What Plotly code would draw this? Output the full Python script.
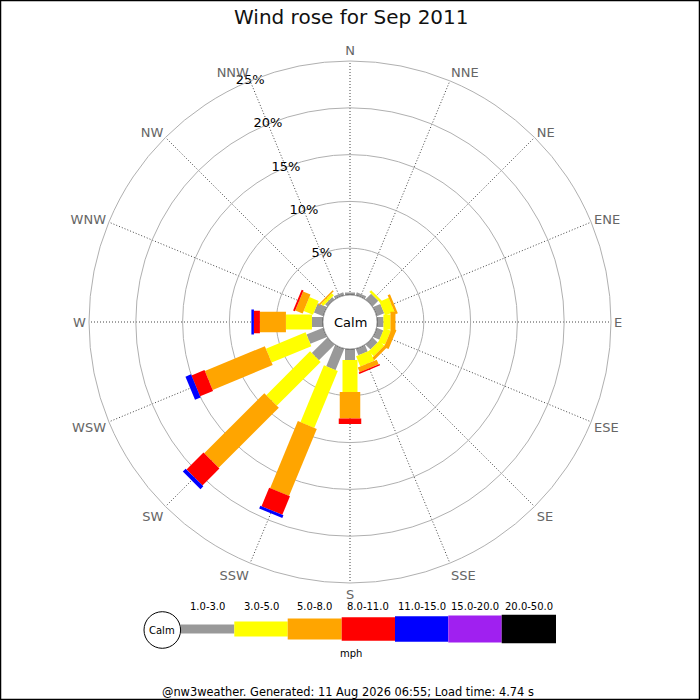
import math
import plotly.graph_objects as go

# ---------------- data ----------------
directions = ["N", "NNE", "NE", "ENE", "E", "ESE", "SE", "SSE",
              "S", "SSW", "SW", "WSW", "W", "WNW", "NW", "NNW"]
dir_angles = [i * 22.5 for i in range(16)]

speed_bands = ["1.0-3.0", "3.0-5.0", "5.0-8.0", "8.0-11.0", "11.0-15.0", "15.0-20.0", "20.0-50.0"]
band_colors = ["#999999", "#ffff00", "#ffa500", "#ff0000", "#0000ff", "#a020f0", "#000000"]

# percentage of time per direction for each speed band (mph)
pct_1_3   = [0.27, 0.32, 0.85, 0.85, 0.69, 0.75, 0.75, 0.75, 1.18, 2.46, 2.35, 1.92, 1.18, 1.07, 0.35, 0.32]
pct_3_5   = [0.0,  0.0,  0.27, 1.07, 0.75, 0.75, 0.75, 1.18, 3.42, 6.57, 6.62, 4.59, 2.78, 1.07, 0.32, 0.0]
pct_5_8   = [0.0,  0.0,  0.0,  0.27, 0.53, 0.53, 0.32, 0.53, 2.83, 7.75, 9.08, 6.94, 2.78, 0.85, 0.16, 0.0]
pct_8_11  = [0.0,  0.0,  0.0,  0.0,  0.0,  0.0,  0.0,  0.16, 0.59, 2.14, 2.56, 1.50, 0.64, 0.21, 0.0,  0.0]
pct_11_15 = [0.0,  0.0,  0.0,  0.0,  0.0,  0.0,  0.0,  0.0,  0.0,  0.32, 0.43, 0.64, 0.27, 0.0,  0.0,  0.0]
pct_15_20 = [0.0] * 16
pct_20_50 = [0.0] * 16
band_values = [pct_1_3, pct_3_5, pct_5_8, pct_8_11, pct_11_15, pct_15_20, pct_20_50]

radial_ticks = [5, 10, 15, 20, 25]

# ---------------- geometry (style) ----------------
W = H = 700
ML, MR, MT, MB = 89, 89, 61, 117
PW = W - ML - MR           # 522
PH = H - MT - MB           # 522
R_OUT = PW / 2.0           # 261 px
R_HOLE = 27.0              # px, calm circle
RMAX = 25.0
HOLE = R_HOLE / R_OUT
PX_PER_UNIT = (R_OUT - R_HOLE) / RMAX
OFF = R_HOLE / PX_PER_UNIT  # hole offset in data units
band_width_px = [10, 15, 20.5, 22.5, 25, 27, 28.5]


def px(x, y):
    """pixel -> paper coordinates"""
    return (x - ML) / PW, 1 - (y - MT) / PH


def rect_polar(theta_c, r0, r1, half_px):
    """corners of a rectangle (constant pixel width) along direction theta_c"""
    h = half_px / PX_PER_UNIT
    pts = []
    for D, s in ((r0 + OFF, -1), (r1 + OFF, -1), (r1 + OFF, 1), (r0 + OFF, 1)):
        R = math.hypot(D, h) - OFF
        th = theta_c + s * math.degrees(math.atan2(h, D))
        pts.append((R, th))
    pts.append(pts[0])
    return [p[0] for p in pts], [p[1] for p in pts]


fig = go.Figure()

# bars
for i, ang in enumerate(dir_angles):
    cum = 0.0
    for j, vals in enumerate(band_values):
        v = vals[i]
        if v <= 0:
            continue
        rr, tt = rect_polar(ang, cum, cum + v, band_width_px[j] / 2.0)
        fig.add_trace(go.Scatterpolar(
            r=rr, theta=tt, mode="lines", fill="toself",
            fillcolor=band_colors[j], line=dict(width=0, color=band_colors[j]),
            hoverinfo="skip", showlegend=False))
        cum += v

# calm circle (r = 0 sits on the hole edge)
circ_theta = [k * 2 for k in range(181)]
fig.add_trace(go.Scatterpolar(
    r=[0] * len(circ_theta), theta=circ_theta, mode="lines",
    line=dict(color="black", width=1), hoverinfo="skip", showlegend=False))

# radial tick labels along NNW
fig.add_trace(go.Scatterpolar(
    r=radial_ticks, theta=[337.5] * len(radial_ticks), mode="text",
    text=[f"{t}%" for t in radial_ticks],
    textfont=dict(family="DejaVu Sans", size=13, color="black"),
    cliponaxis=False, hoverinfo="skip", showlegend=False))

fig.update_layout(
    width=W, height=H,
    margin=dict(l=ML, r=MR, t=MT, b=MB),
    paper_bgcolor="white", plot_bgcolor="white",
    font=dict(family="DejaVu Sans"),
    showlegend=False,
    polar=dict(
        domain=dict(x=[0, 1], y=[0, 1]),
        hole=HOLE,
        bgcolor="white",
        radialaxis=dict(range=[0, RMAX], tickvals=radial_ticks, showticklabels=False,
                        ticks="", showline=False, gridcolor="#b0b0b0", gridwidth=1,
                        angle=112.5),
        angularaxis=dict(rotation=90, direction="clockwise",
                         tickmode="array", tickvals=dir_angles, ticktext=directions,
                         ticks="", showline=True, linecolor="#b0b0b0", linewidth=1,
                         gridcolor="#444444", gridwidth=1, griddash="1px,2px",
                         tickfont=dict(family="DejaVu Sans", size=13, color="#666666")),
    ),
)

annotations = []
shapes = []

# title
tx, ty = px(351, 17)
annotations.append(dict(x=tx, y=ty, xref="paper", yref="paper", text="Wind rose for Sep 2011",
                        showarrow=False, font=dict(size=20, color="#111111"),
                        xanchor="center", yanchor="middle"))
# calm text
cx, cy = px(350, 322)
annotations.append(dict(x=cx, y=cy, xref="paper", yref="paper", text="Calm", showarrow=False,
                        font=dict(size=13, color="black"), xanchor="center", yanchor="middle"))

# legend
leg_edges = [180.7, 234.3, 287.7, 341.7, 395.0, 448.3, 501.7, 556.0]
leg_heights = [9, 15, 21, 23.3, 25.7, 27, 28.6]
leg_cy = 629.0
for j, lab in enumerate(speed_bands):
    x0, y0 = px(leg_edges[j], leg_cy - leg_heights[j] / 2)
    x1, y1 = px(leg_edges[j + 1], leg_cy + leg_heights[j] / 2)
    shapes.append(dict(type="rect", xref="paper", yref="paper", x0=x0, x1=x1, y0=y0, y1=y1,
                       fillcolor=band_colors[j], line=dict(width=0), layer="above"))
    lx, ly = px((leg_edges[j] + leg_edges[j + 1]) / 2, 606.5)
    annotations.append(dict(x=lx, y=ly, xref="paper", yref="paper", text=lab, showarrow=False,
                            font=dict(size=10, color="black"), xanchor="center", yanchor="middle"))
# legend calm circle
c0x, c0y = px(162.3 - 18.3, 630 - 18.3)
c1x, c1y = px(162.3 + 18.3, 630 + 18.3)
shapes.append(dict(type="circle", xref="paper", yref="paper", x0=c0x, x1=c1x, y0=c0y, y1=c1y,
                   line=dict(color="black", width=1), fillcolor="white", layer="above"))
lcx, lcy = px(162.3, 630)
annotations.append(dict(x=lcx, y=lcy, xref="paper", yref="paper", text="Calm", showarrow=False,
                        font=dict(size=10, color="black"), xanchor="center", yanchor="middle"))
mx, my = px(351, 653.5)
annotations.append(dict(x=mx, y=my, xref="paper", yref="paper", text="mph", showarrow=False,
                        font=dict(size=10, color="black"), xanchor="center", yanchor="middle"))
# footer
fx, fy = px(348, 692)
annotations.append(dict(x=fx, y=fy, xref="paper", yref="paper",
                        text="@nw3weather. Generated: 11 Aug 2026 06:55; Load time: 4.74 s",
                        showarrow=False, font=dict(size=11.4, color="black"),
                        xanchor="center", yanchor="middle"))
# frame around image
b0x, b0y = px(0.5, 699.5)
b1x, b1y = px(699.5, 0.5)
shapes.append(dict(type="rect", xref="paper", yref="paper", x0=b0x, x1=b1x, y0=b0y, y1=b1y,
                   line=dict(color="black", width=1.5), fillcolor="rgba(0,0,0,0)", layer="above"))

fig.update_layout(annotations=annotations, shapes=shapes)
fig.write_html("out.html", config={"displayModeBar": False},
               post_script="document.body.style.margin='0';document.body.style.overflow='hidden';")
